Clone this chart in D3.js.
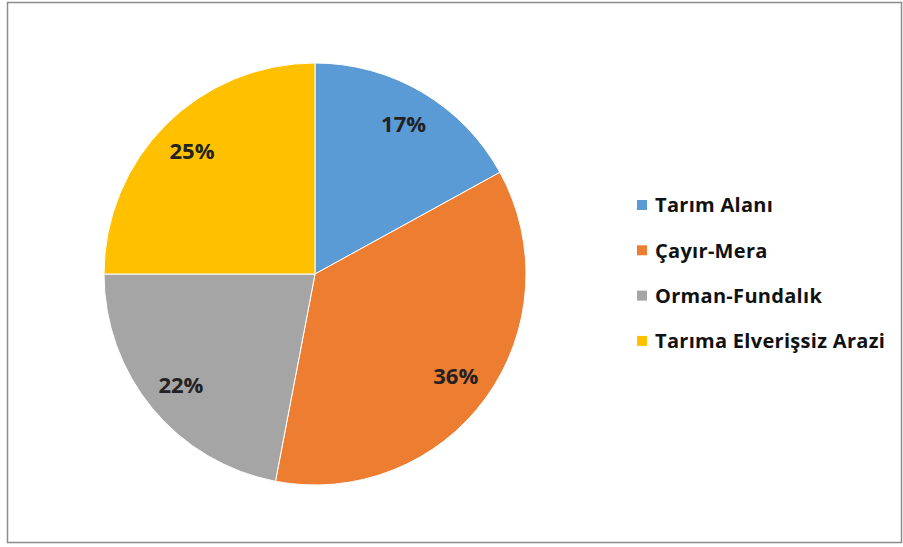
<!DOCTYPE html>
<html><head><meta charset="utf-8">
<script src="https://cdn.jsdelivr.net/npm/d3@7"></script>
<style>body{margin:0;background:#fff;}svg{display:block;}</style>
</head><body>
<svg id="c" width="903" height="547"></svg>
<script>
const categories = ["Tarım Alanı", "Çayır-Mera", "Orman-Fundalık", "Tarıma Elverişsiz Arazi"];
const values = [17, 36, 22, 25];
const colors = ["#5B9BD5", "#ED7D31", "#A5A5A5", "#FFC000"];

const svg = d3.select("#c");
svg.append("rect").attr("x", 7.5).attr("y", 2.5).attr("width", 894).attr("height", 540)
  .attr("fill", "#fff").attr("stroke", "#8c8c8c").attr("stroke-width", 1.5);

const cx = 315, cy = 274, r = 211;
const g = svg.append("g").attr("transform", `translate(${cx},${cy})`);
const data = categories.map((c, i) => ({c, v: values[i], col: colors[i]}));
const pie = d3.pie().value(d => d.v).sort(null);
const arc = d3.arc().innerRadius(0).outerRadius(r);
const labelArc = d3.arc().innerRadius(174).outerRadius(174);
const arcs = pie(data);
g.selectAll("path").data(arcs).join("path")
  .attr("d", arc).attr("fill", d => d.data.col).attr("stroke", "#fff").attr("stroke-width", 1);
g.selectAll("text").data(arcs).join("text")
  .attr("transform", d => `translate(${labelArc.centroid(d)})`)
  .attr("text-anchor", "middle").attr("dy", "0.36em")
  .attr("font-family", "'Open Sans', 'Liberation Sans', sans-serif").attr("font-weight", "bold")
  .attr("font-size", 22).attr("fill", "#222")
  .text(d => d.data.v + "%");

const lg = svg.append("g");
const y0 = 205, step = 45.3;
data.forEach((d, i) => {
  lg.append("rect").attr("x", 637).attr("y", y0 + i * step - 5).attr("width", 10).attr("height", 10).attr("fill", d.col);
  lg.append("text").attr("x", 655).attr("y", y0 + i * step).attr("dy", "0.36em")
    .attr("font-family", "'Open Sans', 'Liberation Sans', sans-serif").attr("font-weight", "bold")
    .attr("font-size", 20).attr("letter-spacing", 0.3).attr("fill", "#111").text(d.c);
});
</script>
</body></html>
